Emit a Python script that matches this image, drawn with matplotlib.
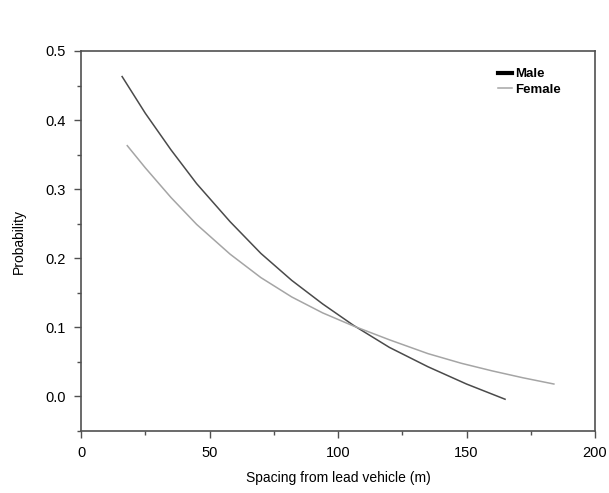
import matplotlib
matplotlib.use('Agg')
import matplotlib.pyplot as plt
from matplotlib.ticker import MultipleLocator

plt.rcParams['font.family'] = ['Liberation Sans', 'DejaVu Sans']

# values
male_x = [16, 25, 35, 45, 58, 70, 82, 94, 106, 120, 135, 150, 165]
male_y = [0.463, 0.410, 0.357, 0.308, 0.253, 0.207, 0.168, 0.134, 0.103, 0.071, 0.043, 0.018, -0.004]
female_x = [18, 25, 35, 45, 58, 70, 82, 94, 106, 120, 135, 148, 160, 172, 184]
female_y = [0.363, 0.331, 0.288, 0.249, 0.206, 0.172, 0.144, 0.121, 0.102, 0.082, 0.062, 0.048, 0.037, 0.027, 0.018]

fig = plt.figure(figsize=(6.09, 4.93), dpi=100)
ax = fig.add_axes([81/609, 1-431/493, (595-81)/609, (431-51)/493])

ax.plot(male_x, male_y, color='#4a4a4a', lw=1.1)
ax.plot(female_x, female_y, color='#a5a5a5', lw=1.1)

ax.set_xlim(0, 200)
ax.set_ylim(-0.05, 0.5)
ax.xaxis.set_minor_locator(MultipleLocator(25))
ax.yaxis.set_minor_locator(MultipleLocator(0.05))
ax.set_xticks([0, 50, 100, 150, 200])
ax.set_xticklabels(['0', '50', '100', '150', '200'])
ax.set_yticks([0.0, 0.1, 0.2, 0.3, 0.4, 0.5])
ax.set_yticklabels(['0.0', '0.1', '0.2', '0.3', '0.4', '0.5'])
ax.tick_params(which='both', direction='out', color='#505050', labelsize=10.5, top=False, right=False)
ax.tick_params(which='major', length=5, width=1, pad=6)
ax.tick_params(which='minor', length=3, width=1)
for s in ax.spines.values():
    s.set_color('#505050')
    s.set_linewidth(1.2)

ax.set_xlabel('Spacing from lead vehicle (m)', fontsize=10, labelpad=8)
ax.set_ylabel('Probability', fontsize=10, labelpad=14)

h1, = ax.plot([], [], color='black', lw=3)
h2, = ax.plot([], [], color='#a5a5a5', lw=1.1)
ax.legend([h1, h2], ['Male', 'Female'], loc='upper left', bbox_to_anchor=(0.812, 0.955),
          frameon=False, prop={'size': 9.5, 'weight': 'bold'}, handlelength=1.0,
          handletextpad=0.3, borderaxespad=0, borderpad=0, labelspacing=0.25)

plt.savefig('out.png', dpi=100)
